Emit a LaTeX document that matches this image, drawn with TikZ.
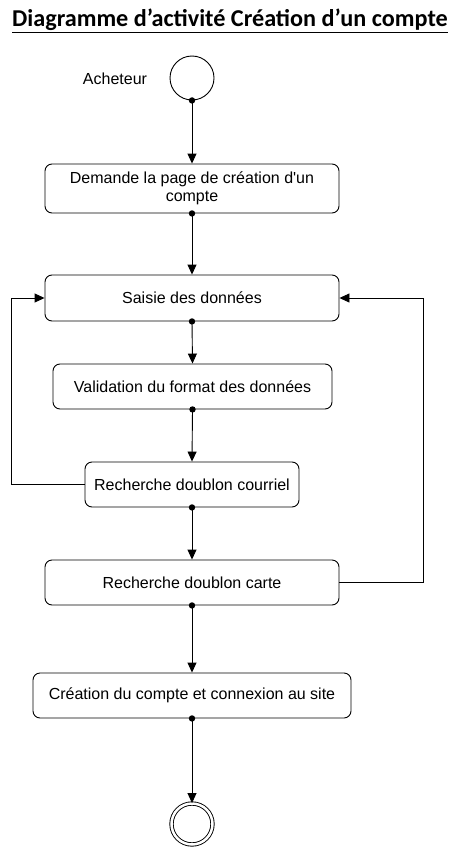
\documentclass[tikz,border=0pt]{standalone}
\usepackage{fontspec}
\setmainfont{Liberation Sans}
\newfontfamily\arialfont{Liberation Sans}
\newfontfamily\titlefont{Carlito}
\usetikzlibrary{arrows.meta}
\begin{document}
\begin{tikzpicture}[x=1pt,y=-1pt,
  act/.style={draw, line width=0.9pt, rounded corners=7pt, inner sep=0pt, align=center,
    font=\arialfont\fontsize{16}{18}\selectfont},
  arr/.style={line width=0.9pt, -{Triangle[length=10pt,width=9pt]}},
  dotpt/.style={fill=black}]
\useasboundingbox (0,0) rectangle (460,848);
\node (title) at (230,21) {\titlefont\bfseries\fontsize{24.2}{28}\selectfont\underline{Diagramme d’activité Création d’un compte}};
\node[draw, circle, line width=0.9pt, minimum size=44pt, inner sep=0pt] (start) at (192,78) {};
\node[font=\arialfont\fontsize{16}{18}\selectfont] (actor) at (115,79) {Acheteur};
\node[act, minimum width=294pt, minimum height=49pt] (b1) at (192,188.5) {Demande la page de création d'un\\compte};
\node[act, minimum width=294pt, minimum height=46pt] (b2) at (192,298) {Saisie des données};
\node[act, minimum width=279pt, minimum height=45pt] (b3) at (192.5,386.5) {Validation du format des données};
\node[act, minimum width=214pt, minimum height=45pt] (b4) at (192,484.5) {Recherche doublon courriel};
\node[act, minimum width=294pt, minimum height=45pt] (b5) at (192,582.5) {Recherche doublon carte};
\node[act, minimum width=318pt, minimum height=45pt] (b6) at (192,695.5) {Création du compte et connexion au site};
\node[draw, circle, double, double distance=2.5pt, line width=0.9pt, minimum size=41pt, inner sep=0pt] (end) at (192,824) {};
\draw[arr] (start.south) -- (b1.north);
\draw[arr] (b1.south) -- (b2.north);
\draw[arr] (b2.south) -- (b3.north);
\draw[arr] (b3.south) -- (b4.north);
\draw[arr] (b4.south) -- (b5.north);
\draw[arr] (b5.south) -- (b6.north);
\draw[arr] (b6.south) -- (end.north);
\draw[arr] (b4.west) -- ++(-73,0) |- (b2.west);
\draw[arr] (b5.east) -- ++(84,0) |- (b2.east);
\foreach \n in {start,b1,b2,b3,b4,b5,b6} \fill[dotpt] (\n.south) circle (3.2pt);
\end{tikzpicture}
\end{document}
